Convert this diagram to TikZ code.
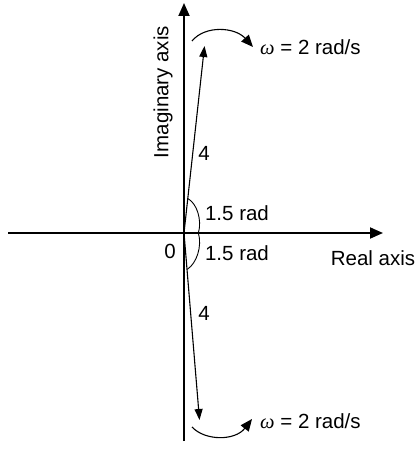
\documentclass[tikz,border=0pt]{standalone}
\usepackage{fontspec}
\setmainfont{Liberation Sans}
\newfontfamily\omegafont{Liberation Serif}
\usetikzlibrary{arrows.meta}
\tikzset{
  axis/.style={line width=1.8pt,-{Triangle[length=13pt,width=11pt]}},
  vec/.style={line width=1.1pt,-{Triangle[length=11pt,width=8pt]}},
  rot/.style={line width=1.1pt,-{Triangle[length=12pt,width=10pt]}},
  ang/.style={line width=0.9pt},
  lbl/.style={inner sep=0pt,font=\fontsize{20.5}{24}\selectfont},
}
\newcommand{\myomega}{{\omegafont\itshape ω}}
\begin{document}
\begin{tikzpicture}[x=1pt,y=-1pt]
\useasboundingbox (0,0) rectangle (417,449);
\coordinate (O) at (184,233);
\coordinate (xl) at (8,233);
\coordinate (xr) at (383,233);
\coordinate (yb) at (184,441);
\coordinate (yt) at (184,3);
\coordinate (vt) at (204.5,46);
\coordinate (vb) at (199.5,420);
\draw[axis] (xl) -- (xr);
\draw[axis] (yb) -- (yt);
\draw[vec] (O) -- (vt);
\draw[vec] (O) -- (vb);
% angle arcs
\draw[ang] (187.3,198.3) .. controls (197,203) and (202,220) .. (198.5,232.5);
\draw[ang] (198.5,233.5) .. controls (202,246) and (197,263) .. (187.3,269.3);
% rotation arrows
\coordinate (ta) at (192,41);
\coordinate (tb) at (253,47);
\coordinate (ba) at (192,427);
\coordinate (bb) at (252,419);
\draw[rot] (ta) .. controls (205,25) and (235,27) .. (tb);
\draw[rot] (ba) .. controls (205,441) and (235,441) .. (bb);
% labels
\node[lbl,rotate=90] (im) at (163,92) {Imaginary axis};
\node[lbl] (re) at (373,258) {Real axis};
\node[lbl] (zero) at (170,251) {0};
\node[lbl] (m1) at (204,153) {4};
\node[lbl] (m2) at (204,313) {4};
\node[lbl] (a1) at (237,213) {1.5 rad};
\node[lbl] (a2) at (237,253) {1.5 rad};
\node[lbl,anchor=west] (w1) at (260,47) {\myomega\ = 2 rad/s};
\node[lbl,anchor=west] (w2) at (260,421) {\myomega\ = 2 rad/s};
\end{tikzpicture}
\end{document}
